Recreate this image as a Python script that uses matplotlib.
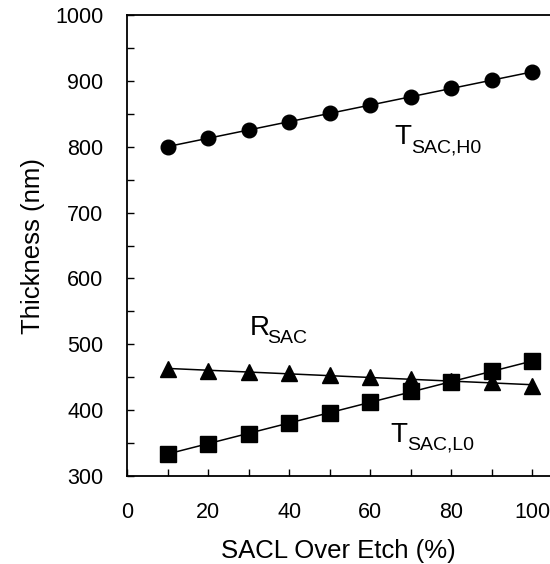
import numpy as np
import matplotlib
matplotlib.use("Agg")
import matplotlib.pyplot as plt
from matplotlib.ticker import MultipleLocator

plt.rcParams['font.family'] = ['Liberation Sans', 'DejaVu Sans']

# datos
over_etch = [10, 20, 30, 40, 50, 60, 70, 80, 90, 100]
t_sac_h0 = [800, 813, 825, 838, 851, 863, 876, 889, 901, 913]
r_sac = [462, 460, 458, 457, 453, 450, 447, 444, 442, 437]
t_sac_l0 = [334, 349, 364, 380, 396, 412, 429, 443, 459, 474]

series = [
    (t_sac_h0, 'o', 10.5),
    (r_sac, '^', 11),
    (t_sac_l0, 's', 11),
]

fig = plt.figure(figsize=(5.5, 5.64), dpi=100)
ax = fig.add_axes([0.2309, 0.156, 0.7691, 0.8174])

x = np.array(over_etch)
for values, marker, size in series:
    # linea de ajuste lineal
    coef = np.polyfit(x, values, 1)
    ax.plot(x, np.polyval(coef, x), color='black', lw=1.1, zorder=2)
    ax.plot(x, values, linestyle='none', marker=marker, ms=size,
            color='black', zorder=3)

ax.set_xlim(0, 104.4)
ax.set_ylim(300, 1000)
ax.xaxis.set_major_locator(MultipleLocator(20))
ax.xaxis.set_minor_locator(MultipleLocator(10))
ax.yaxis.set_major_locator(MultipleLocator(100))
ax.yaxis.set_minor_locator(MultipleLocator(50))
ax.tick_params(which='both', direction='in', length=5, width=1.0,
               labelsize=15.5, top=False, right=False)
ax.tick_params(axis='x', which='both', pad=19)
ax.tick_params(axis='y', which='both', pad=17)
ax.spines['right'].set_visible(False)
for s in ['left', 'bottom', 'top']:
    ax.spines[s].set_linewidth(1.3)

ax.set_xlabel('SACL Over Etch (%)', fontsize=18.5, labelpad=11)
ax.set_ylabel('Thickness (nm)', fontsize=18.5, labelpad=7)

# etiquetas de las series
labels = [
    (65.9, 804, 'T', 'SAC,H0'),
    (30.4, 514, 'R', 'SAC'),
    (65.0, 352, 'T', 'SAC,L0'),
]
for lx, ly, main, sub in labels:
    ax.text(lx, ly, main, fontsize=20, ha='left', va='baseline')
    ax.annotate(sub, xy=(lx, ly), xytext=(17, -8), textcoords='offset pixels',
                fontsize=14, ha='left', va='baseline')

fig.savefig('out.png', dpi=100)
